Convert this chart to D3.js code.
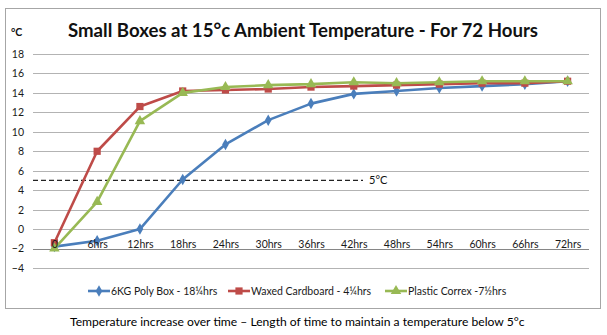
<!DOCTYPE html>
<html>
<head>
<meta charset="utf-8">
<script src="https://cdn.jsdelivr.net/npm/d3@7"></script>
<style>
  body { margin: 0; background: #fff; }
  text { font-family: Lato, "Open Sans", sans-serif; }
</style>
</head>
<body>
<svg id="chart" width="607" height="335"></svg>
<script>
// chart data
const categories = ["0", "6hrs", "12hrs", "18hrs", "24hrs", "30hrs", "36hrs",
  "42hrs", "48hrs", "54hrs", "60hrs", "66hrs", "72hrs"];
const polyBox = [-1.8, -1.2, 0.0, 5.1, 8.7, 11.2, 12.9, 13.9, 14.2, 14.5, 14.7, 14.9, 15.2];
const waxedCardboard = [-1.4, 8.0, 12.6, 14.2, 14.3, 14.4, 14.6, 14.7, 14.8, 14.9, 15.0, 15.0, 15.2];
const plasticCorrex = [-2.0, 2.8, 11.1, 14.0, 14.6, 14.8, 14.9, 15.1, 15.0, 15.1, 15.2, 15.2, 15.2];
const seriesNames = ["6KG Poly Box - 18¼hrs", "Waxed Cardboard - 4¼hrs", "Plastic Correx -7½hrs"];
const yTicks = [-4, -2, 0, 2, 4, 6, 8, 10, 12, 14, 16, 18];
const threshold = 5;

const series = [
  { name: seriesNames[0], values: polyBox, color: "#4a7ebb", symbol: d3.symbolDiamond, size: 38 },
  { name: seriesNames[1], values: waxedCardboard, color: "#be4b48", symbol: d3.symbolSquare, size: 52 },
  { name: seriesNames[2], values: plasticCorrex, color: "#98b954", symbol: d3.symbolTriangle, size: 48 }
];

const svg = d3.select("#chart");

// squeeze / stretch a text node to a given width
function fitText(sel, width) {
  const size = parseFloat(sel.attr("font-size"));
  const w = sel.node().getComputedTextLength();
  sel.attr("font-size", (size * width / w).toFixed(2));
}

// chart frame
svg.append("rect")
  .attr("x", 5.5).attr("y", 8.5)
  .attr("width", 595).attr("height", 300)
  .attr("fill", "#fff")
  .attr("stroke", "#a6a6a6");

const x = d3.scalePoint().domain(categories).range([33, 589]).padding(0.5);
const y = d3.scaleLinear().domain([-4, 18]).range([268, 54]);

// gridlines
svg.append("g")
  .selectAll("line")
  .data(yTicks)
  .join("line")
  .attr("x1", 33).attr("x2", 589)
  .attr("y1", (d) => Math.round(y(d)) + 0.5)
  .attr("y2", (d) => Math.round(y(d)) + 0.5)
  .attr("stroke", (d) => (d === -2 ? "#868686" : "#b3b3b3"))
  .attr("stroke-width", 1.2);

// y axis labels
const yAxis = svg.append("g")
  .attr("transform", "translate(33,0)")
  .call(d3.axisLeft(y).tickValues(yTicks).tickSize(0).tickPadding(9));
yAxis.select(".domain").remove();
yAxis.selectAll("text")
  .attr("font-family", "Lato, sans-serif")
  .attr("font-size", 10.5)
  .attr("fill", "#1a1a1a");

// x axis labels sit just above the -2 line
const xAxis = svg.append("g")
  .attr("transform", `translate(0,${y(-2)})`)
  .call(d3.axisTop(x).tickSize(0).tickPadding(1));
xAxis.select(".domain").remove();
xAxis.selectAll("text")
  .attr("font-family", "Lato, sans-serif")
  .attr("font-size", 10.5)
  .attr("fill", "#1a1a1a");

// 5 degree threshold
svg.append("line")
  .attr("x1", 33).attr("x2", 363)
  .attr("y1", y(threshold)).attr("y2", y(threshold))
  .attr("stroke", "#222")
  .attr("stroke-width", 1.2)
  .attr("stroke-dasharray", "5,3");
svg.append("text")
  .attr("x", 369).attr("y", y(threshold) + 4)
  .attr("font-size", 11)
  .attr("fill", "#111")
  .text(threshold + "°C");

// series lines and markers
const line = d3.line()
  .x((d, i) => x(categories[i]))
  .y((d) => y(d));

series.forEach((s) => {
  svg.append("path")
    .datum(s.values)
    .attr("fill", "none")
    .attr("stroke", s.color)
    .attr("stroke-width", 2.6)
    .attr("stroke-linejoin", "round")
    .attr("d", line);
  svg.append("g")
    .selectAll("path")
    .data(s.values)
    .join("path")
    .attr("transform", (d, i) => `translate(${x(categories[i])},${y(d)})`)
    .attr("d", d3.symbol().type(s.symbol).size(s.size))
    .attr("fill", s.color);
});

// the "0" category label is drawn on top of the markers
xAxis.raise();

// title and unit
const title = svg.append("text")
  .attr("x", 303).attr("y", 37)
  .attr("text-anchor", "middle")
  .attr("font-size", 19)
  .attr("font-weight", "bold")
  .attr("fill", "#111")
  .text("Small Boxes at 15°c Ambient Temperature - For 72 Hours");
fitText(title, 470);

svg.append("text")
  .attr("x", 11).attr("y", 36)
  .attr("font-size", 10.5)
  .attr("font-weight", "bold")
  .attr("fill", "#111")
  .text("°C");

// legend
const legendX = [88, 228, 385];
const legend = svg.append("g")
  .selectAll("g")
  .data(series)
  .join("g")
  .attr("transform", (d, i) => `translate(${legendX[i]},291)`);
legend.append("line")
  .attr("x1", 0).attr("x2", 22)
  .attr("stroke", (d) => d.color)
  .attr("stroke-width", 2.6);
legend.append("path")
  .attr("transform", "translate(11,0)")
  .attr("d", (d) => d3.symbol().type(d.symbol).size(d.size)())
  .attr("fill", (d) => d.color);
legend.append("text")
  .attr("x", 23).attr("y", 3.5)
  .attr("font-size", 10.5)
  .attr("fill", "#1a1a1a")
  .text((d) => d.name);

// caption under the frame
const caption = svg.append("text")
  .attr("x", 70).attr("y", 326)
  .attr("font-size", 12)
  .attr("fill", "#000")
  .text("Temperature increase over time – Length of time to maintain a temperature below 5°c");
fitText(caption, 455);
</script>
</body>
</html>
